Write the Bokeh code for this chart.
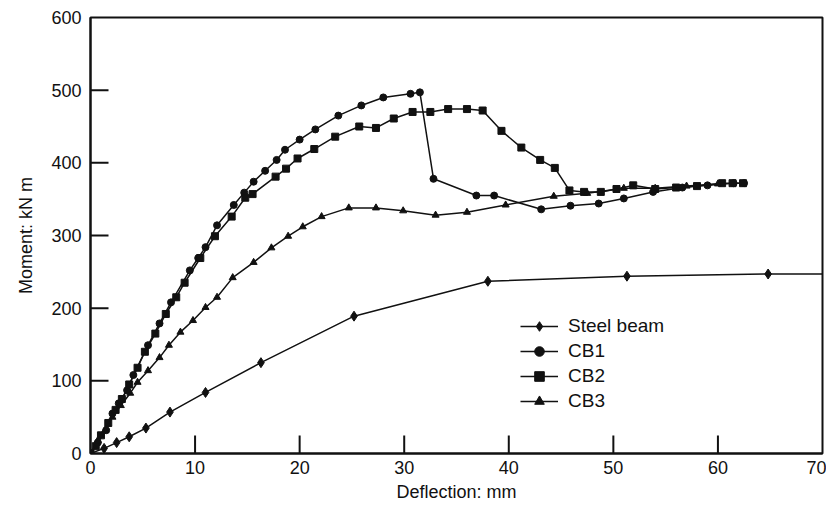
import math
from bokeh.plotting import figure
from bokeh.models import Range1d, Legend, LegendItem, FixedTicker
from bokeh.embed import file_html
from bokeh.resources import INLINE

# ---- data ----
x_ticks = [0, 10, 20, 30, 40, 50, 60, 70]
y_ticks = [0, 100, 200, 300, 400, 500, 600]

steel_x = [0, 1.3, 2.5, 3.7, 5.3, 7.6, 11.0, 16.3, 25.2, 38.0, 51.3, 64.8, 70.0]
steel_y = [0, 7, 15, 23, 35, 57, 84, 125, 189, 237, 244, 247, 247]

cb1_x = [0, 0.7, 1.5, 2.1, 2.7, 3.5, 4.1, 5.5, 6.6, 7.7, 9.5, 10.3, 11.0, 12.1,
         13.7, 14.7, 15.6, 16.7, 17.8, 18.6, 20.0, 21.5, 23.7, 25.9, 28.0, 30.6,
         31.5, 32.8, 36.9, 38.6, 43.1, 45.9, 48.6, 51.0, 53.8, 56.6, 59.0, 61.5, 62.5]
cb1_y = [0, 15, 32, 55, 69, 87, 108, 149, 179, 208, 252, 269, 284, 314,
         342, 359, 374, 389, 404, 418, 432, 446, 465, 479, 490, 495,
         497, 378, 355, 355, 336, 341, 344, 351, 360, 366, 369, 372, 372]

cb2_x = [0, 0.5, 1.0, 1.7, 2.4, 3.0, 3.7, 4.5, 5.2, 6.2, 7.2, 8.2, 9.0, 10.5,
         11.9, 13.5, 14.8, 15.5, 17.7, 18.7, 19.8, 21.4, 23.4, 25.7, 27.3, 29.0,
         30.8, 32.5, 34.2, 36.0, 37.5, 39.3, 41.2, 43.0, 44.4, 45.8, 47.2, 48.8,
         50.3, 51.9, 54.0, 56.0, 58.0, 60.4, 61.4, 62.4]
cb2_y = [0, 10, 25, 42, 60, 75, 95, 118, 140, 165, 192, 215, 235, 269,
         299, 326, 352, 357, 381, 392, 406, 419, 436, 450, 448, 461,
         470, 470, 474, 474, 472, 444, 421, 404, 393, 362, 360, 360,
         364, 369, 364, 366, 368, 372, 372, 372]

cb3_x = [0, 0.7, 1.4, 2.1, 2.9, 3.8, 4.5, 5.5, 6.6, 7.5, 8.6, 9.8, 11.0, 12.1,
         13.6, 15.6, 17.3, 18.9, 20.3, 22.1, 24.7, 27.3, 29.9, 33.0, 36.0, 39.7,
         44.3, 47.5, 51.0, 54.0, 57.0, 60.0]
cb3_y = [0, 18, 32, 50, 66, 83, 98, 114, 132, 149, 167, 183, 201, 215,
         242, 263, 283, 299, 312, 326, 338, 338, 334, 328, 332, 342,
         354, 358, 365, 365, 368, 371]

series_names = ["Steel beam", "CB1", "CB2", "CB3"]

# ---- style constants ----
X0, X1, Y0, Y1 = 0, 70, 0, 600
FRAME_W, FRAME_H = 732, 436
TICK_PX = 18

p = figure(width=826, height=507, x_range=Range1d(X0, X1), y_range=Range1d(Y0, Y1),
           output_backend="svg", toolbar_location=None,
           min_border_left=90, min_border_right=4, min_border_top=17, min_border_bottom=54)
p.xgrid.grid_line_color = None
p.ygrid.grid_line_color = None
p.outline_line_color = "#111111"
p.outline_line_width = 2

for ax in (p.xaxis[0], p.yaxis[0]):
    ax.major_tick_in = 0
    ax.major_tick_out = 0
    ax.minor_tick_in = 0
    ax.minor_tick_out = 0
    ax.axis_line_color = "#111111"
    ax.axis_line_width = 2
    ax.major_label_text_font = "Liberation Sans"
    ax.major_label_text_font_size = "18px"
    ax.major_label_text_color = "#111111"
    ax.axis_label_text_font = "Liberation Sans"
    ax.axis_label_text_font_size = "18px"
    ax.axis_label_text_font_style = "normal"
    ax.axis_label_text_color = "#111111"

p.xaxis.ticker = FixedTicker(ticks=x_ticks)
p.yaxis.ticker = FixedTicker(ticks=y_ticks)
p.xaxis.axis_label = "Deflection: mm"
p.yaxis.axis_label = "Moment: kN m"
p.xaxis.major_label_standoff = 7
p.xaxis.axis_label_standoff = 5
p.yaxis.major_label_standoff = 9
p.yaxis.axis_label_standoff = 12

# inward tick marks as dash markers centred half a tick length inside the frame
half_dy = (Y1 - Y0) * (TICK_PX / 2) / FRAME_H
half_dx = (X1 - X0) * (TICK_PX / 2) / FRAME_W
inner_x = x_ticks[1:-1]
inner_y = y_ticks[1:-1]
p.scatter(x=inner_x, y=[Y0 + half_dy] * len(inner_x), marker="dash", size=TICK_PX,
          angle=math.pi / 2, line_color="#111111", line_width=2)
p.scatter(x=[X0 + half_dx] * len(inner_y), y=inner_y, marker="dash", size=TICK_PX,
          angle=0, line_color="#111111", line_width=2)

lw = 1.5
l0 = p.line(steel_x, steel_y, line_color="#111111", line_width=lw)
m0 = p.scatter(steel_x[:-1], steel_y[:-1], marker="diamond", size=10, color="#111111")
l1 = p.line(cb1_x, cb1_y, line_color="#111111", line_width=lw)
m1 = p.scatter(cb1_x, cb1_y, marker="circle", size=7, color="#111111")
l2 = p.line(cb2_x, cb2_y, line_color="#111111", line_width=lw)
m2 = p.scatter(cb2_x, cb2_y, marker="square", size=7, color="#111111")
l3 = p.line(cb3_x, cb3_y, line_color="#111111", line_width=lw)
m3 = p.scatter(cb3_x, cb3_y, marker="triangle", size=7, color="#111111")

items = [LegendItem(label=series_names[0], renderers=[l0, m0]),
         LegendItem(label=series_names[1], renderers=[l1, m1]),
         LegendItem(label=series_names[2], renderers=[l2, m2]),
         LegendItem(label=series_names[3], renderers=[l3, m3])]
legend = Legend(items=items, location=(430, 40), border_line_color=None,
                background_fill_alpha=0, glyph_width=38, glyph_height=24,
                label_height=24, spacing=1, padding=0, margin=0, label_standoff=10,
                label_text_font="Liberation Sans", label_text_font_size="19px",
                label_text_color="#111111")
p.add_layout(legend)

open("out.html", "w").write(file_html(p, INLINE))
